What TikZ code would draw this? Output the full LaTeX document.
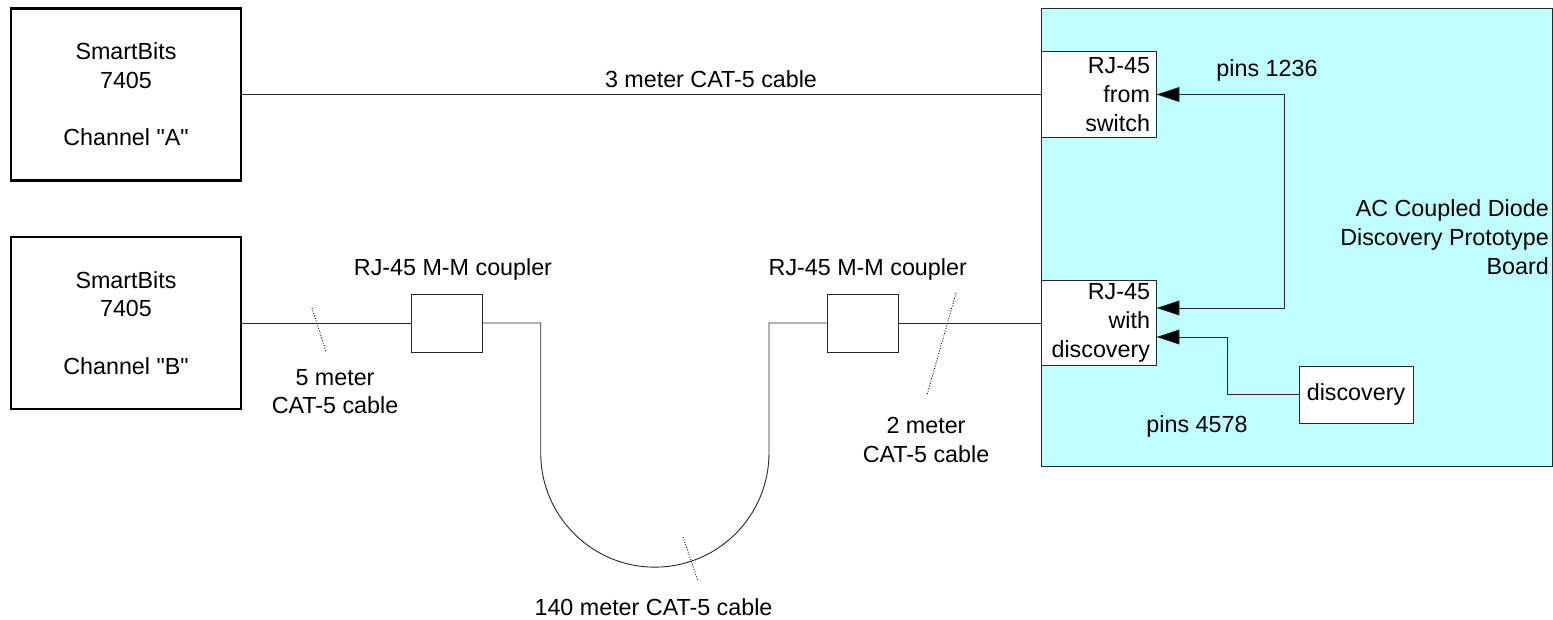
\documentclass[tikz,border=0pt]{standalone}
\usepackage{fontspec}
\setmainfont{Liberation Sans}
\usetikzlibrary{arrows.meta}
\definecolor{boardfill}{RGB}{192,255,255}
\definecolor{linec}{RGB}{40,40,40}
\begin{document}
\begin{tikzpicture}[x=1pt,y=-1pt,
  txt/.style={font=\fontsize{23.3}{28.7}\selectfont, inner sep=0pt},
  bigbox/.style={draw=black, line width=2.4pt, minimum width=230pt, minimum height=172pt, align=center, txt},
  rjbox/.style={draw=linec, fill=white, line width=0.9pt, text width=103pt, align=right, inner xsep=6pt, inner ysep=0pt, minimum height=85.5pt, font=\fontsize{23.3}{28.7}\selectfont},
  cpl/.style={draw=linec, fill=white, line width=0.9pt, minimum width=71pt, minimum height=58pt, inner sep=0pt},
  wire/.style={draw=linec, line width=0.9pt},
  tick/.style={draw=black, line width=0.8pt, dash pattern=on 1pt off 1.6pt},
  tri/.style={-{Triangle[length=23pt,width=15pt,fill=black]}},
  tritri/.style={{Triangle[length=23pt,width=15pt,fill=black]}-{Triangle[length=23pt,width=15pt,fill=black]}}
]
\useasboundingbox (0,0) rectangle (1553,620);

% board
\node[draw=linec, fill=boardfill, line width=0.9pt, minimum width=511.5pt, minimum height=458pt, inner sep=0pt] (board) at (1296.75,237) {};
\node[txt, align=right, anchor=east] (boardlbl) at (1549,237) {AC Coupled Diode\\Discovery Prototype\\Board};

% SmartBits boxes
\node[bigbox] (A) at (126,94.5) {SmartBits\\7405\\[28.7pt]Channel \textquotedbl A\textquotedbl};
\node[bigbox] (B) at (126,323) {SmartBits\\7405\\[28.7pt]Channel \textquotedbl B\textquotedbl};

% RJ-45 boxes on board
\node[rjbox] (rj1) at (1098.5,94.5) {RJ-45\\from\\switch};
\node[rjbox] (rj2) at (1098.5,323) {RJ-45\\with\\discovery};
\node[draw=linec, fill=white, line width=0.9pt, minimum width=114pt, minimum height=57pt, inner sep=0pt, txt] (disc) at (1356,394.5) {discovery};

% couplers
\node[cpl] (c1) at (446.5,323) {};
\node[cpl] (c2) at (862.5,323) {};

% cable A
\draw[wire] (A.east) -- (rj1.west);
\node[txt, anchor=base] (l3m) at (711,88) {3 meter CAT-5 cable};

% cable B chain
\draw[wire] (B.east) -- (c1.west);
\coordinate (u1) at (540.7,323);
\coordinate (u2) at (540.7,453);
\coordinate (u3) at (769,323);
\draw[wire] (c1.east) -- (u1) -- (u2) arc[start angle=180, end angle=360, radius=114.15pt] -- (u3) -- (c2.west);
\draw[wire] (c2.east) -- (rj2.west);

% coupler labels
\node[txt, anchor=base] (lc1) at (453,276) {RJ-45 M-M coupler};
\node[txt, anchor=base east] (lc2) at (967,276) {RJ-45 M-M coupler};

% ticks
\coordinate (t1a) at (312,308); \coordinate (t1b) at (326,352);
\coordinate (t2a) at (683,537); \coordinate (t2b) at (698,581);
\coordinate (t3a) at (956,293); \coordinate (t3b) at (927,395);
\draw[tick] (t1a) -- (t1b);
\draw[tick] (t2a) -- (t2b);
\draw[tick] (t3a) -- (t3b);

% cable labels
\node[txt, anchor=base] (l5a) at (335,385) {5 meter};
\node[txt, anchor=base] (l5b) at (335,413) {CAT-5 cable};
\node[txt, anchor=base] (l2a) at (926,433) {2 meter};
\node[txt, anchor=base] (l2b) at (926,462) {CAT-5 cable};
\node[txt, anchor=base] (l140) at (653.5,615) {140 meter CAT-5 cable};

% pin arrows
\coordinate (p2) at (1284,308);
\coordinate (q) at (1227,337);
\draw[wire, tritri] (rj1.east) -| (p2) -- (rj2.east |- p2);
\draw[wire, tri] (disc.west) -| (q) -- (rj2.east |- q);
\node[txt, anchor=base] (lp1) at (1267,77) {pins 1236};
\node[txt, anchor=base] (lp2) at (1197,432) {pins 4578};
\end{tikzpicture}
\end{document}
